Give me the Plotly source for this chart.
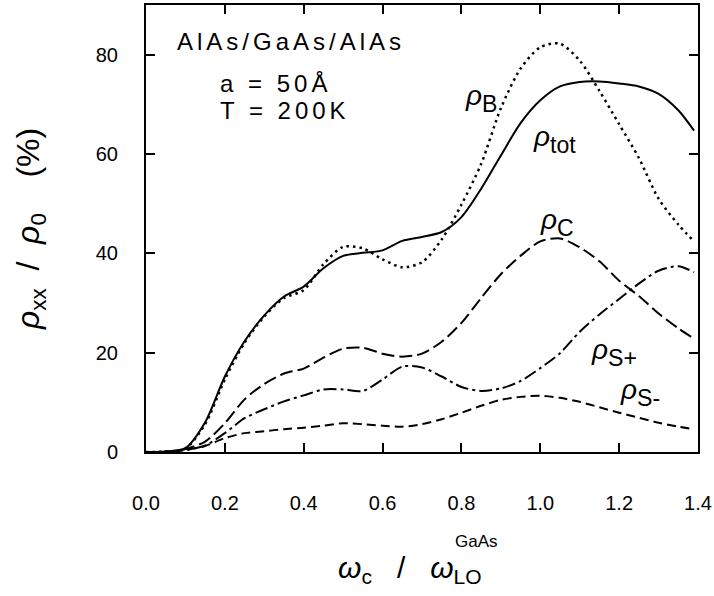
import plotly.graph_objects as go

# ---- data ----
x_vals = [0.00, 0.05, 0.10, 0.15, 0.20, 0.25, 0.30, 0.35, 0.40, 0.45, 0.50,
          0.55, 0.60, 0.65, 0.70, 0.75, 0.80, 0.85, 0.90, 0.95, 1.00, 1.05,
          1.10, 1.15, 1.20, 1.25, 1.30, 1.35, 1.39]

rho_tot = [0.0, 0.1, 0.8, 6.0, 15.2, 22.3, 27.5, 31.3, 33.3, 37.0, 39.5,
           40.1, 40.6, 42.5, 43.3, 44.3, 47.3, 53.0, 59.7, 66.2, 70.8, 73.6,
           74.5, 74.6, 74.2, 73.6, 72.1, 68.8, 64.7]

rho_B = [0.0, 0.1, 0.7, 5.6, 14.6, 22.0, 27.3, 31.0, 32.6, 37.8, 41.3,
         41.0, 38.8, 37.2, 38.2, 42.8, 49.8, 58.0, 69.2, 77.2, 81.5, 82.2,
         78.8, 72.7, 66.0, 59.2, 51.0, 45.8, 42.4]

rho_C = [0.0, 0.05, 0.6, 2.1, 5.8, 10.6, 13.7, 15.8, 16.8, 19.0, 20.8,
         21.0, 19.8, 19.2, 19.8, 22.2, 26.0, 31.0, 35.8, 39.5, 42.4, 43.0,
         41.2, 38.4, 34.5, 31.4, 27.9, 24.9, 22.8]

rho_Sp = [0.0, 0.03, 0.4, 1.3, 3.8, 6.8, 8.6, 10.2, 11.4, 12.6, 12.6,
          12.3, 14.6, 17.2, 17.0, 15.2, 13.1, 12.3, 12.8, 14.3, 16.9, 19.9,
          24.2, 27.7, 30.8, 33.9, 36.5, 37.4, 36.2]

rho_Sm = [0.0, 0.02, 0.4, 1.2, 2.8, 3.8, 4.2, 4.6, 4.9, 5.3, 5.8,
          5.6, 5.3, 5.1, 5.6, 6.6, 7.9, 9.3, 10.5, 11.1, 11.3, 10.9,
          10.1, 9.0, 7.9, 6.9, 5.9, 5.1, 4.6]

x_ticks = [0.0, 0.2, 0.4, 0.6, 0.8, 1.0, 1.2, 1.4]
y_ticks = [0, 20, 40, 60, 80]

FONT = "Liberation Sans"
NB = "\u00a0"

fig = go.Figure()

series = [
    (rho_B, "2.5px,4px", 2.5),
    (rho_tot, None, 2),
    (rho_C, "13px,5px", 2),
    (rho_Sp, "13px,4px,3px,4px", 2),
    (rho_Sm, "9px,5px", 2),
]
for ys, dash, w in series:
    line = dict(color="black", width=w, shape="spline", smoothing=0.8)
    if dash:
        line["dash"] = dash
    fig.add_trace(go.Scatter(x=x_vals, y=ys, mode="lines", line=line,
                             showlegend=False, hoverinfo="skip"))

axis_common = dict(showline=True, linecolor="black", linewidth=2, mirror="ticks",
                   ticks="inside", ticklen=9, tickwidth=2, tickcolor="black",
                   showgrid=False, zeroline=False, automargin=False,
                   tickfont=dict(family=FONT, size=20, color="black"))

fig.update_xaxes(range=[0, 1.4], tickvals=x_ticks,
                 ticktext=[f"{v:.1f}" for v in x_ticks],
                 ticklabelstandoff=32, **axis_common)
fig.update_yaxes(range=[0, 90], tickvals=y_ticks,
                 ticktext=[str(v) for v in y_ticks],
                 ticklabelstandoff=22, **axis_common)

ann = []
def add(text, x, y, size, xref="x", yref="y", xanchor="center", yanchor="middle", angle=0):
    ann.append(dict(text=text, x=x, y=y, xref=xref, yref=yref, showarrow=False,
                    xanchor=xanchor, yanchor=yanchor, textangle=angle,
                    font=dict(family=FONT, size=size, color="black")))

def spaced(t, px):
    return f"<span style='letter-spacing:{px}px'>{t}</span>"

def rho(sub):
    return f"<span style='font-size:28px'><i>ρ</i></span><sub>{sub}</sub>"

add(spaced("AlAs/GaAs/AlAs", 4), 0.368, 82.6, 24)
add(spaced("a = 50Å", 4), 0.183, 74.2, 24, xanchor="left")
add(spaced("T = 200K", 4), 0.183, 68.7, 24, xanchor="left")

add(rho("B"), 0.85, 71.2, 33)
add(rho("tot"), 1.036, 63.0, 33)
add(rho("C"), 1.043, 46.2, 33)
add(rho("S+"), 1.188, 20.1, 33)
add(rho("S-"), 1.252, 11.9, 33)

# axis titles
ytitle = ("<i>ρ</i><sub>xx</sub>" + NB * 2 + "/" + NB * 2 + "<i>ρ</i><sub>0</sub>"
          + NB * 4 + "(%)")
add(ytitle, -0.21, (452 - 229) / 447, 32, xref="paper", yref="paper", angle=-90)
add("<i>ω</i><sub>c</sub>" + NB * 3 + "/" + NB * 3 + "<i>ω</i><sub>LO</sub>",
    (410 - 146) / 552, (452 - 569) / 447, 30, xref="paper", yref="paper")
add("GaAs", (476 - 146) / 552, (452 - 541) / 447, 17, xref="paper", yref="paper")

fig.update_layout(width=714, height=596, margin=dict(l=146, r=16, t=5, b=144),
                  paper_bgcolor="white", plot_bgcolor="white", annotations=ann)

fig.write_html("out.html", config={"displayModeBar": False},
               post_script="document.body.style.margin='0';")
